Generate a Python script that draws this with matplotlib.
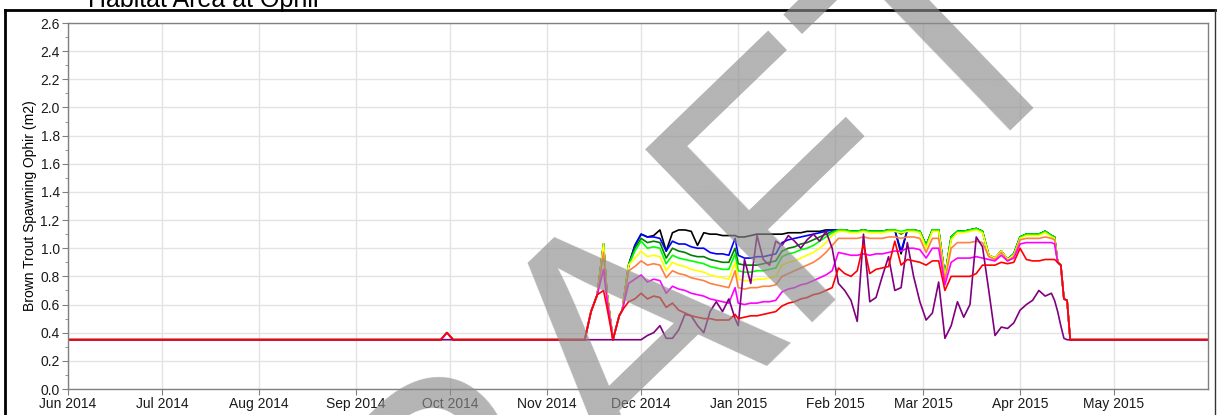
import matplotlib
matplotlib.use('Agg')
import matplotlib.pyplot as plt
import matplotlib.dates as mdates
from matplotlib.lines import Line2D
from matplotlib.ticker import MultipleLocator, FormatStrFormatter
import pandas as pd

plt.rcParams['font.family'] = ['Liberation Sans', 'DejaVu Sans']

W, H = 1217, 415

# flat base habitat before the season, with the small bump at the end of September
lead_dates = ['2014-06-01', '2014-09-28', '2014-09-30', '2014-10-02']
lead_vals = [0.35, 0.35, 0.40, 0.35]
lead_flat = [0.35, 0.35, 0.35, 0.35]
tail_dates = ['2015-05-31']
tail_vals = [0.35]

dates = [
    '2014-11-13', '2014-11-15', '2014-11-17', '2014-11-19', '2014-11-20', '2014-11-22', '2014-11-24', '2014-11-25',
    '2014-11-27', '2014-11-29',
    '2014-12-01', '2014-12-03', '2014-12-05', '2014-12-07', '2014-12-09', '2014-12-11', '2014-12-13', '2014-12-15',
    '2014-12-17', '2014-12-19', '2014-12-21', '2014-12-23', '2014-12-25', '2014-12-27', '2014-12-29', '2014-12-31',
    '2015-01-01', '2015-01-03', '2015-01-05', '2015-01-07', '2015-01-09', '2015-01-11', '2015-01-13', '2015-01-15',
    '2015-01-17', '2015-01-19', '2015-01-21', '2015-01-23', '2015-01-25', '2015-01-27', '2015-01-29', '2015-01-31',
    '2015-02-02', '2015-02-04', '2015-02-06', '2015-02-08', '2015-02-10', '2015-02-12', '2015-02-14', '2015-02-16',
    '2015-02-18', '2015-02-20', '2015-02-22', '2015-02-24', '2015-02-26', '2015-02-28',
    '2015-03-02', '2015-03-04', '2015-03-06', '2015-03-08', '2015-03-10', '2015-03-12', '2015-03-14', '2015-03-16',
    '2015-03-18', '2015-03-20', '2015-03-22', '2015-03-24', '2015-03-26', '2015-03-28', '2015-03-30',
    '2015-04-01', '2015-04-03', '2015-04-05', '2015-04-07', '2015-04-09', '2015-04-11', '2015-04-12', '2015-04-13',
    '2015-04-14', '2015-04-15', '2015-04-16', '2015-04-17',
]

black = [
    0.35, 0.55, 0.67, 1.03, 0.70, 0.35, 0.52, 0.56, 0.88, 1.02,
    1.10, 1.08, 1.09, 1.13, 0.98, 1.11, 1.13, 1.13, 1.12, 1.02, 1.11, 1.10, 1.10, 1.09, 1.09, 1.09,
    1.08, 1.08, 1.09, 1.10, 1.10, 1.10, 1.10, 1.10, 1.11, 1.11, 1.11, 1.12, 1.12, 1.12, 1.13, 1.13,
    1.13, 1.13, 1.12, 1.12, 1.13, 1.12, 1.12, 1.12, 1.13, 1.13, 0.96, 1.13, 1.13, 1.12,
    1.02, 1.13, 1.13, 0.80, 1.08, 1.12, 1.12, 1.13, 1.14, 1.12, 0.95, 0.93, 0.98, 0.92, 0.96,
    1.08, 1.10, 1.10, 1.10, 1.12, 1.09, 1.08, 0.90, 0.88, 0.64, 0.63, 0.35,
]
blue = [
    0.35, 0.55, 0.67, 1.03, 0.70, 0.35, 0.52, 0.56, 0.88, 1.02,
    1.10, 1.08, 1.08, 1.07, 0.98, 1.05, 1.03, 1.03, 1.01, 1.00, 1.00, 0.97, 0.96, 0.96, 0.95, 1.07,
    0.95, 0.93, 0.93, 0.94, 0.94, 0.95, 0.96, 1.04, 1.06, 1.07, 1.08, 1.09, 1.10, 1.11, 1.12, 1.13,
    1.13, 1.13, 1.12, 1.12, 1.13, 1.12, 1.12, 1.12, 1.13, 1.13, 0.98, 1.13, 1.13, 1.12,
    1.02, 1.13, 1.13, 0.80, 1.08, 1.12, 1.12, 1.13, 1.14, 1.12, 0.95, 0.93, 0.98, 0.92, 0.96,
    1.08, 1.10, 1.10, 1.10, 1.12, 1.09, 1.08, 0.90, 0.88, 0.64, 0.63, 0.35,
]
dark_green = [
    0.35, 0.55, 0.67, 1.03, 0.70, 0.35, 0.52, 0.56, 0.88, 1.00,
    1.07, 1.04, 1.05, 1.04, 0.93, 1.00, 0.98, 0.97, 0.95, 0.94, 0.94, 0.92, 0.91, 0.90, 0.90, 1.00,
    0.89, 0.88, 0.88, 0.88, 0.89, 0.90, 0.91, 0.98, 1.00, 1.01, 1.03, 1.04, 1.06, 1.08, 1.10, 1.12,
    1.13, 1.13, 1.12, 1.12, 1.13, 1.12, 1.12, 1.12, 1.13, 1.13, 1.10, 1.13, 1.13, 1.12,
    1.02, 1.13, 1.13, 0.80, 1.08, 1.12, 1.12, 1.13, 1.14, 1.12, 0.95, 0.93, 0.98, 0.92, 0.96,
    1.08, 1.10, 1.10, 1.10, 1.12, 1.09, 1.08, 0.90, 0.88, 0.64, 0.63, 0.35,
]
lime = [
    0.35, 0.55, 0.67, 1.03, 0.70, 0.35, 0.52, 0.56, 0.88, 0.98,
    1.05, 1.00, 1.01, 1.00, 0.89, 0.95, 0.93, 0.92, 0.91, 0.90, 0.89, 0.87, 0.86, 0.85, 0.85, 0.96,
    0.84, 0.83, 0.83, 0.84, 0.84, 0.85, 0.86, 0.94, 0.96, 0.97, 0.99, 1.00, 1.02, 1.05, 1.08, 1.11,
    1.13, 1.13, 1.12, 1.12, 1.13, 1.12, 1.12, 1.12, 1.13, 1.13, 1.12, 1.13, 1.13, 1.12,
    1.02, 1.13, 1.13, 0.80, 1.08, 1.12, 1.12, 1.13, 1.14, 1.12, 0.95, 0.93, 0.98, 0.92, 0.96,
    1.08, 1.10, 1.10, 1.10, 1.12, 1.09, 1.08, 0.90, 0.88, 0.64, 0.63, 0.35,
]
yellow = [
    0.35, 0.55, 0.67, 1.03, 0.70, 0.35, 0.52, 0.56, 0.88, 0.93,
    0.98, 0.94, 0.95, 0.94, 0.84, 0.90, 0.88, 0.87, 0.85, 0.84, 0.83, 0.81, 0.80, 0.79, 0.78, 0.90,
    0.78, 0.77, 0.77, 0.78, 0.78, 0.79, 0.80, 0.88, 0.90, 0.91, 0.93, 0.95, 0.97, 1.00, 1.04, 1.09,
    1.12, 1.12, 1.11, 1.11, 1.12, 1.11, 1.11, 1.11, 1.12, 1.12, 1.11, 1.12, 1.12, 1.11,
    1.00, 1.12, 1.12, 0.79, 1.06, 1.11, 1.11, 1.12, 1.13, 1.11, 0.95, 0.93, 0.98, 0.92, 0.95,
    1.07, 1.09, 1.09, 1.09, 1.11, 1.08, 1.07, 0.90, 0.88, 0.64, 0.63, 0.35,
]
coral = [
    0.35, 0.55, 0.67, 0.97, 0.68, 0.35, 0.52, 0.56, 0.84, 0.87,
    0.91, 0.88, 0.89, 0.88, 0.79, 0.84, 0.82, 0.81, 0.79, 0.78, 0.77, 0.75, 0.74, 0.73, 0.72, 0.84,
    0.72, 0.71, 0.72, 0.72, 0.73, 0.73, 0.74, 0.80, 0.82, 0.84, 0.86, 0.88, 0.90, 0.93, 0.97, 1.02,
    1.07, 1.07, 1.07, 1.07, 1.08, 1.07, 1.07, 1.07, 1.08, 1.08, 1.07, 1.08, 1.08, 1.07,
    0.97, 1.07, 1.07, 0.77, 1.00, 1.04, 1.04, 1.04, 1.05, 1.04, 0.94, 0.92, 0.97, 0.91, 0.94,
    1.06, 1.07, 1.07, 1.07, 1.08, 1.07, 1.06, 0.90, 0.88, 0.64, 0.63, 0.35,
]
magenta = [
    0.35, 0.55, 0.67, 0.85, 0.65, 0.35, 0.52, 0.56, 0.75, 0.78,
    0.81, 0.76, 0.78, 0.77, 0.68, 0.73, 0.71, 0.70, 0.68, 0.67, 0.66, 0.64, 0.63, 0.62, 0.61, 0.72,
    0.61, 0.60, 0.61, 0.61, 0.62, 0.62, 0.63, 0.69, 0.71, 0.72, 0.74, 0.75, 0.77, 0.79, 0.81, 0.84,
    0.97, 0.96, 0.95, 0.95, 0.96, 0.95, 0.96, 0.96, 0.97, 0.98, 0.98, 1.00, 1.00, 0.99,
    0.93, 1.00, 1.00, 0.74, 0.90, 0.93, 0.93, 0.93, 0.94, 0.93, 0.92, 0.91, 0.95, 0.91, 0.93,
    1.03, 1.04, 1.04, 1.04, 1.04, 1.04, 1.03, 0.90, 0.88, 0.64, 0.63, 0.35,
]
red = [
    0.35, 0.55, 0.67, 0.70, 0.59, 0.35, 0.52, 0.56, 0.62, 0.64,
    0.68, 0.64, 0.66, 0.65, 0.58, 0.61, 0.56, 0.54, 0.52, 0.51, 0.50, 0.50, 0.49, 0.49, 0.49, 0.53,
    0.50, 0.51, 0.52, 0.52, 0.53, 0.54, 0.55, 0.59, 0.61, 0.62, 0.64, 0.65, 0.67, 0.68, 0.70, 0.72,
    0.86, 0.82, 0.80, 0.84, 1.03, 0.82, 0.85, 0.86, 0.87, 1.05, 0.88, 0.92, 0.91, 0.90,
    0.88, 0.91, 0.91, 0.70, 0.80, 0.80, 0.80, 0.80, 0.82, 0.88, 0.88, 0.88, 0.90, 0.89, 0.90,
    1.00, 0.92, 0.91, 0.91, 0.92, 0.92, 0.92, 0.90, 0.88, 0.64, 0.63, 0.35,
]
purple = [
    0.35, 0.35, 0.35, 0.35, 0.35, 0.35, 0.35, 0.35, 0.35, 0.35,
    0.35, 0.38, 0.40, 0.45, 0.36, 0.36, 0.42, 0.53, 0.52, 0.45, 0.40, 0.55, 0.62, 0.55, 0.64, 0.50,
    0.45, 0.92, 0.75, 1.09, 0.92, 0.88, 1.05, 1.02, 1.09, 1.05, 1.00, 1.06, 1.10, 1.05, 1.12, 1.00,
    0.75, 0.70, 0.63, 0.48, 1.10, 0.62, 0.65, 0.80, 0.94, 0.70, 0.72, 1.04, 0.80, 0.62,
    0.49, 0.54, 0.76, 0.36, 0.45, 0.62, 0.51, 0.60, 1.08, 1.01, 0.70, 0.38, 0.44, 0.43, 0.47,
    0.56, 0.60, 0.63, 0.70, 0.66, 0.68, 0.63, 0.55, 0.45, 0.36, 0.35, 0.35,
]

# drawing order: red ends up on top of everything
series = [
    (black, '#000000', lead_vals),
    (blue, '#0000ff', lead_vals),
    (dark_green, '#008000', lead_vals),
    (lime, '#00ff00', lead_vals),
    (yellow, '#ffff00', lead_vals),
    (coral, '#ff8040', lead_vals),
    (magenta, '#ff00ff', lead_vals),
    (purple, '#800080', lead_flat),
    (red, '#ff0000', lead_vals),
]

fig = plt.figure(figsize=(W / 100, H / 100), dpi=100)
ax = fig.add_axes([68 / W, 1 - 389 / H, (1208 - 68) / W, (389 - 23) / H])

x = pd.to_datetime(lead_dates + dates + tail_dates)
for vals, col, lead in series:
    ax.plot(x, lead + vals + tail_vals, color=col, lw=1.2, solid_joinstyle='round')

ax.set_xlim(pd.Timestamp('2014-06-01'), pd.Timestamp('2015-05-31'))
ax.set_ylim(0, 2.6)
ax.xaxis.set_major_locator(mdates.MonthLocator())
ax.xaxis.set_major_formatter(mdates.DateFormatter('%b %Y'))
ax.yaxis.set_major_locator(MultipleLocator(0.2))
ax.yaxis.set_minor_locator(MultipleLocator(0.1))
ax.yaxis.set_major_formatter(FormatStrFormatter('%.1f'))
ax.grid(True, which='major', color='#e3e3e3', lw=1.0)
ax.set_axisbelow(True)
ax.tick_params(which='major', length=4, color='#808080', labelsize=10, labelcolor='#1a1a1a', pad=2)
ax.tick_params(which='minor', length=2, color='#808080')
for s in ax.spines.values():
    s.set_color('#808080')
    s.set_linewidth(1.0)
ax.set_ylabel('Brown Trout Spawning Ophir (m2)', fontsize=10, labelpad=2.5)

# outer frame of the exported chart, cut at the right and bottom
fig.add_artist(Line2D([5 / W, 5 / W], [0, 1 - 10 / H], color='black', lw=2, transform=fig.transFigure))
fig.add_artist(Line2D([5 / W, 1215 / W], [1 - 10 / H, 1 - 10 / H], color='black', lw=2, transform=fig.transFigure))
fig.add_artist(Line2D([1215 / W, 1215 / W], [0, 1 - 10 / H], color='#333333', lw=1, transform=fig.transFigure))

fig.text(205 / W, 1 - 7 / H, 'Habitat Area at Ophir', fontsize=18, ha='center', va='baseline')

# draft stamp over the whole chart
fig.text(252 / W, 1 - 835 / H, 'DRAFT', fontsize=252, rotation=44, rotation_mode='anchor',
         ha='left', va='baseline', color='#8c8c8c', alpha=0.65, zorder=10)

fig.savefig('out.png', dpi=100)
